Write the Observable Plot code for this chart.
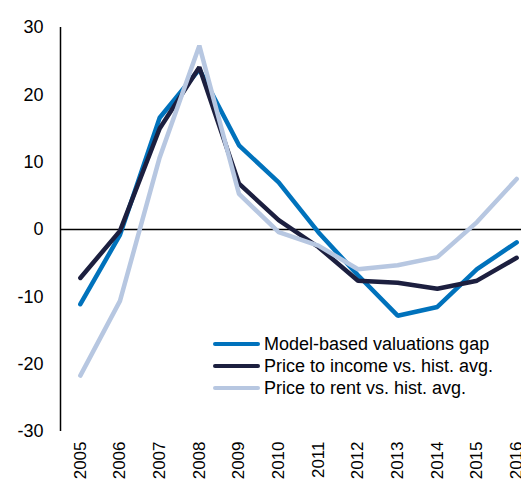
<!DOCTYPE html>
<html>
<head>
<meta charset="utf-8">
<script src="https://cdn.jsdelivr.net/npm/d3@7"></script>
<script src="https://cdn.jsdelivr.net/npm/@observablehq/plot@0.6"></script>
<style>
  html, body { margin: 0; padding: 0; background: #fff; overflow: hidden; }
  #wrap { position: relative; width: 521px; height: 481px; font-family: "Liberation Sans", Arial, sans-serif; }
  #legend { position: absolute; left: 213px; top: 333px; font-size: 18px; color: #000; }
  .row { display: flex; align-items: center; height: 22px; white-space: nowrap; }
  .sw { width: 47px; height: 4.5px; margin-right: 4px; border-radius: 2px; }
</style>
</head>
<body>
<div id="wrap"><div id="chart"></div><div id="legend"></div></div>
<script>
const years = [2005, 2006, 2007, 2008, 2009, 2010, 2011, 2012, 2013, 2014, 2015, 2016];
const modelGap = [-11.1, -0.8, 16.6, 23.8, 12.5, 7.0, -0.4, -6.8, -12.8, -11.5, -5.9, -1.9];
const priceToIncome = [-7.2, -0.2, 15.0, 24.1, 6.8, 1.4, -2.6, -7.6, -7.9, -8.8, -7.6, -4.2];
const priceToRent = [-21.7, -10.6, 10.7, 27.3, 5.3, -0.4, -2.4, -5.9, -5.3, -4.1, 1.1, 7.5];
const seriesNames = ["Model-based valuations gap", "Price to income vs. hist. avg.", "Price to rent vs. hist. avg."];
const seriesColors = ["#0072BC", "#1C1F3F", "#B7C7E1"];
const yTicks = [-30, -20, -10, 0, 10, 20, 30];

const allSeries = [modelGap, priceToIncome, priceToRent];
const rows = allSeries.flatMap((vals, i) => vals.map((v, j) => ({year: years[j], value: v, series: seriesNames[i]})));

const xMin = years[0] - 0.5, xMax = years[years.length - 1] + 0.5;

const chart = Plot.plot({
  width: 521,
  height: 481,
  marginTop: 27,
  marginBottom: 50,
  marginLeft: 60,
  marginRight: 0,
  style: {fontFamily: "'Liberation Sans', Arial, sans-serif", fontSize: "18px", color: "#000", background: "#fff", overflow: "hidden"},
  x: {domain: [xMin, xMax], range: [60, 536]},
  y: {domain: [-30, 30]},
  color: {domain: seriesNames, range: seriesColors},
  marks: [
    Plot.axisY({ticks: yTicks, tickFormat: d => String(d), tickSize: 0, tickPadding: 17, label: null, fontSize: 18}),
    Plot.axisX({ticks: years, tickFormat: d => String(d), tickRotate: -90, tickSize: 0, tickPadding: 10, label: null, fontSize: 17}),
    Plot.ruleX([xMin], {y1: -30, y2: 30, stroke: "#000", strokeWidth: 1.5}),
    Plot.ruleY([0], {stroke: "#000", strokeWidth: 1.5}),
    Plot.line(rows, {x: "year", y: "value", z: "series", stroke: "series", strokeWidth: 4.5, strokeLinejoin: "miter", strokeLinecap: "round"})
  ]
});
document.getElementById("chart").appendChild(chart);

const legend = document.getElementById("legend");
seriesNames.forEach((name, i) => {
  const row = document.createElement("div");
  row.className = "row";
  const sw = document.createElement("div");
  sw.className = "sw";
  sw.style.background = seriesColors[i];
  const t = document.createElement("span");
  t.textContent = name;
  row.appendChild(sw);
  row.appendChild(t);
  legend.appendChild(row);
});
</script>
</body>
</html>
